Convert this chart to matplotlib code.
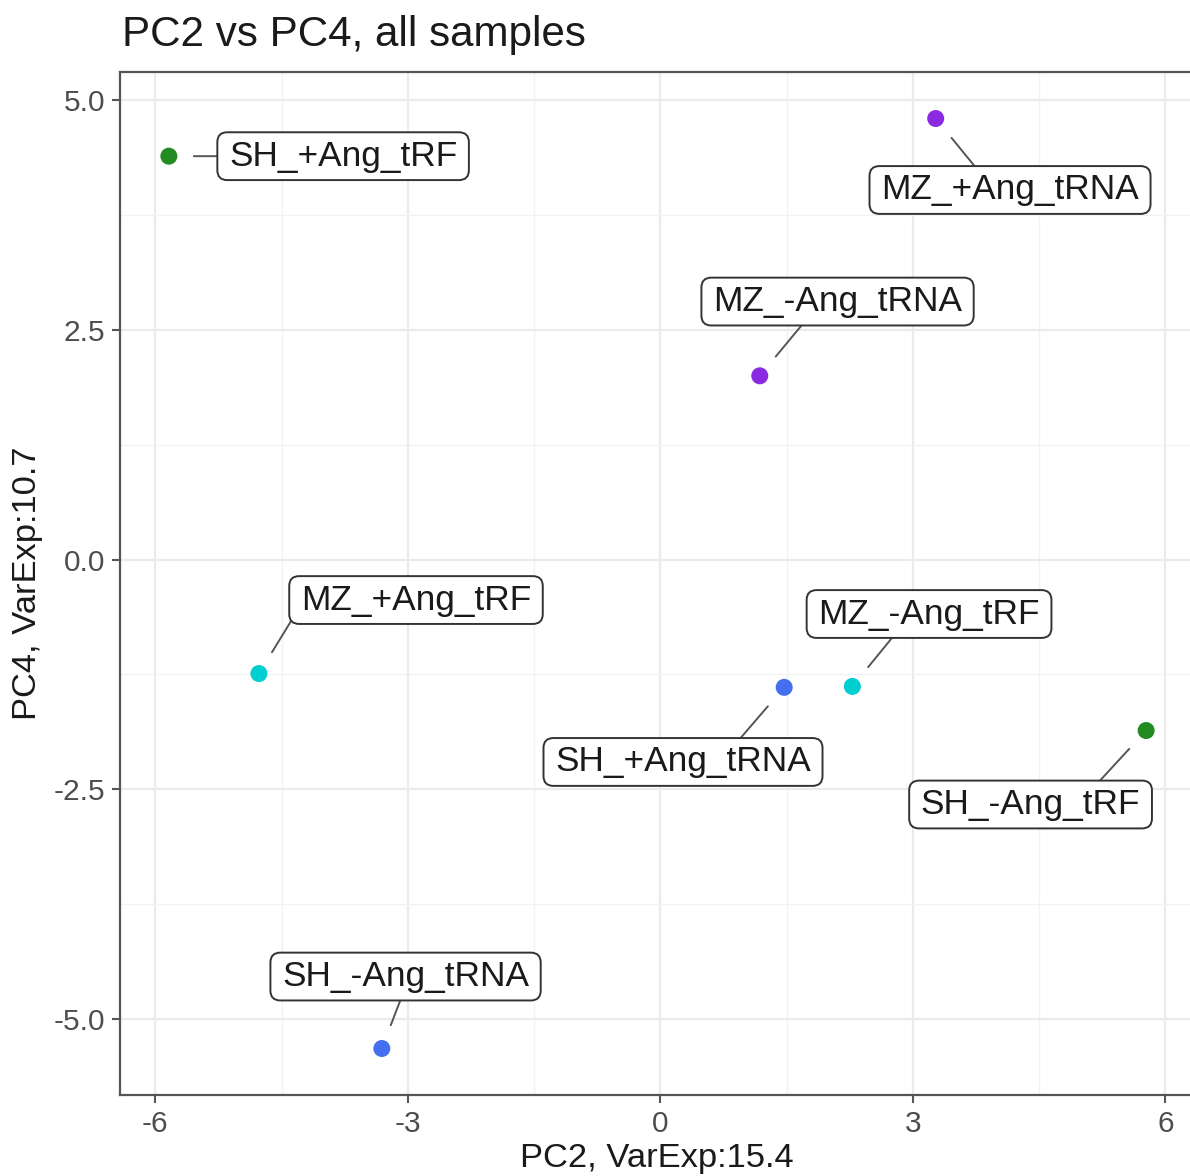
import matplotlib
matplotlib.use("Agg")
import matplotlib.pyplot as plt
from matplotlib.ticker import FixedLocator
from matplotlib.patches import BoxStyle

plt.rcParams['font.family'] = ['Liberation Sans', 'DejaVu Sans']

# ---- data ----
samples = ["SH_+Ang_tRF", "MZ_+Ang_tRNA", "MZ_-Ang_tRNA", "MZ_+Ang_tRF",
           "SH_+Ang_tRNA", "MZ_-Ang_tRF", "SH_-Ang_tRF", "SH_-Ang_tRNA"]
pc2 = [-5.84, 3.27, 1.18, -4.77, 1.47, 2.28, 5.77, -3.31]
pc4 = [4.39, 4.80, 2.00, -1.24, -1.39, -1.38, -1.86, -5.32]
groups = ["SH_tRF", "MZ_tRNA", "MZ_tRNA", "MZ_tRF",
          "SH_tRNA", "MZ_tRF", "SH_tRF", "SH_tRNA"]
x_ticks = [-6, -3, 0, 3, 6]
y_ticks = [-5.0, -2.5, 0.0, 2.5, 5.0]
title = "PC2 vs PC4, all samples"
x_label = "PC2, VarExp:15.4"
y_label = "PC4, VarExp:10.7"

# ---- styles / label placement (offsets from points, data units) ----
group_colors = {"SH_tRF": "#228B22", "MZ_tRNA": "#8A2BE2",
                "MZ_tRF": "#00CED1", "SH_tRNA": "#4470F0"}
label_dx = [2.07, 0.883, 0.924, 1.866, -1.202, 0.911, -1.373, 0.282]
label_dy = [0.00, -0.778, 0.808, 0.800, -0.812, 0.788, -0.805, 0.783]
seg_relpos = [(0.0, 0.5), (0.386, 1.0), (0.38, 0.0), (0.0, 0.35),
              (0.70, 1.0), (0.36, 0.0), (0.785, 1.0), (0.49, 0.0)]


class RoundXY:
    """Rounded box with separate horizontal / vertical padding."""
    def __init__(self, padx=0.33, pady=0.21, rounding=0.28):
        self.padx, self.pady, self.rounding = padx, pady, rounding

    def __call__(self, x0, y0, width, height, mutation_size):
        px = self.padx * mutation_size
        py = self.pady * mutation_size
        base = BoxStyle.Round(pad=0.0, rounding_size=self.rounding)
        return base(x0 - px, y0 - py, width + 2 * px, height + 2 * py,
                    mutation_size)


W, H = 1190, 1176
fig = plt.figure(figsize=(W / 100, H / 100), dpi=100)
ax = fig.add_axes([120 / W, (H - 1095) / H, 1075 / W, 1023 / H])

# limits with ggplot-like 5% expansion
xr = max(pc2) - min(pc2)
yr = max(pc4) - min(pc4)
ax.set_xlim(min(pc2) - 0.05 * xr, max(pc2) + 0.05 * xr)
ax.set_ylim(min(pc4) - 0.05 * yr, max(pc4) + 0.05 * yr)

ax.xaxis.set_major_locator(FixedLocator(x_ticks))
ax.yaxis.set_major_locator(FixedLocator(y_ticks))
ax.xaxis.set_minor_locator(FixedLocator([-4.5, -1.5, 1.5, 4.5]))
ax.yaxis.set_minor_locator(FixedLocator([-3.75, -1.25, 1.25, 3.75]))
ax.set_xticklabels([str(t) for t in x_ticks])
ax.set_yticklabels([f"{t:.1f}" for t in y_ticks])

ax.grid(which='major', color='#EBEBEB', lw=1.6, zorder=0)
ax.grid(which='minor', color='#F2F2F2', lw=1.0, zorder=0)
ax.set_axisbelow(True)

for s in ax.spines.values():
    s.set_color('#555555')
    s.set_linewidth(1.6)

ax.tick_params(which='major', length=5.5, width=1.5, color='#555555',
               labelsize=21.5, labelcolor='#4D4D4D', pad=5.0)
ax.tick_params(which='minor', length=0)

colors = [group_colors[g] for g in groups]
ax.scatter(pc2, pc4, s=150, c=colors, zorder=3, linewidths=0)

for name, x, y, dx, dy, rp in zip(samples, pc2, pc4, label_dx, label_dy,
                                  seg_relpos):
    ax.annotate(name, xy=(x, y), xytext=(x + dx, y + dy),
                ha='center', va='center', fontsize=25.4, color='#1a1a1a',
                bbox=dict(boxstyle=RoundXY(), fc='white', ec='#333333',
                          lw=1.4),
                arrowprops=dict(arrowstyle='-', color='#555555', lw=1.4,
                                shrinkA=0, shrinkB=18, relpos=rp),
                zorder=4, annotation_clip=False)

fig.text(122 / W, 1 - 46 / H, title, fontsize=30.3, color='#1a1a1a',
         ha='left', va='baseline')

ax.set_xlabel(x_label, fontsize=24.8, color='#1a1a1a')
ax.xaxis.set_label_coords((657 - 120) / 1075, -(1167 - 1095) / 1023)
ax.xaxis.label.set_va('baseline')
ax.set_ylabel(y_label, fontsize=24.8, color='#1a1a1a')
ax.yaxis.set_label_coords((28 - 120) / 1075, 0.5)
ax.yaxis.label.set_va('center')

fig.savefig("out.png", dpi=100)
